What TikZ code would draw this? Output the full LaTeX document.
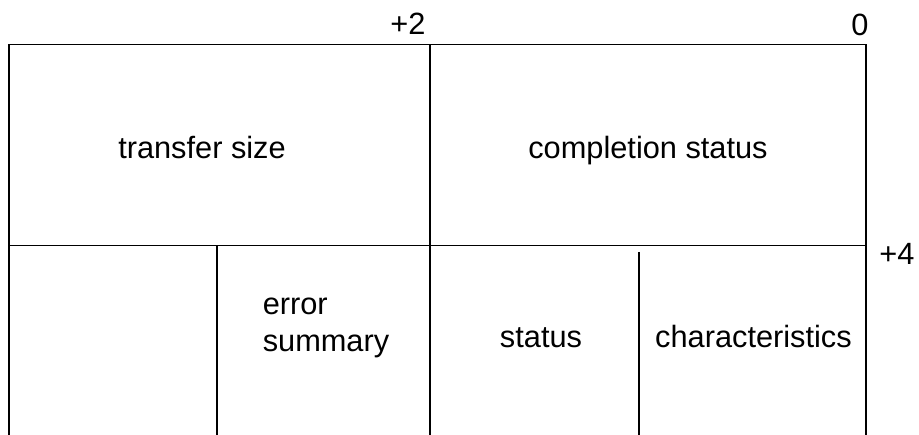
\documentclass[tikz,border=0pt]{standalone}
\usepackage{fontspec}
\setmainfont{Liberation Sans}
\tikzset{
  field/.style={font=\fontsize{17.5}{21.5}\selectfont, inner sep=0pt, anchor=base},
  offset/.style={font=\fontsize{17.5}{21}\selectfont, inner sep=0pt, anchor=base}
}
\begin{document}
\begin{tikzpicture}[line width=1.1pt]
  \useasboundingbox (0, 0) rectangle (18.38, 8.7);
  % frame and dividers
  \draw (0.18, 0) -- (0.18, 7.81) -- (17.32, 7.81) -- (17.32, 0);
  \draw (0.18, 3.79) -- (17.32, 3.79);
  \draw (8.6, 7.81) -- (8.6, 0);
  \draw (4.34, 3.79) -- (4.34, 0);
  \draw (12.78, 3.66) -- (12.78, 0);
  % byte offsets
  \node [offset] (off2) at (8.16, 8.0) {+2};
  \node [offset] (off0) at (17.2, 7.98) {0};
  \node [offset] (off4) at (17.94, 3.4) {+4};
  % fields
  \node [field] (size) at (4.04, 5.52) {transfer size};
  \node [field] (compl) at (12.96, 5.52) {completion status};
  \node [field, align=left] (err) at (6.52, 1.66) {error\\summary};
  \node [field] (stat) at (10.82, 1.74) {status};
  \node [field] (char) at (15.07, 1.75) {characteristics};
\end{tikzpicture}
\end{document}
